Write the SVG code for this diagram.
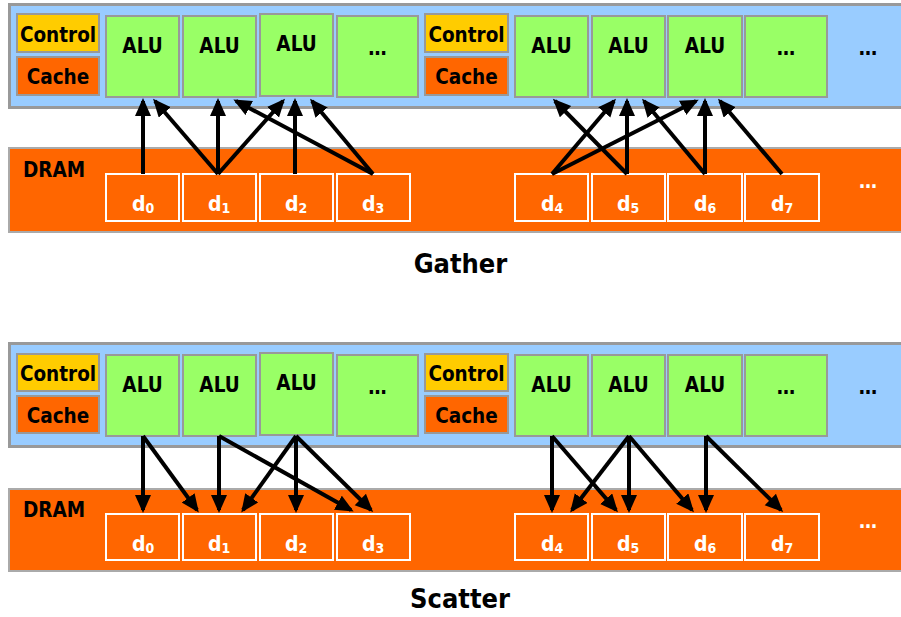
<svg xmlns="http://www.w3.org/2000/svg" width="901" height="617" viewBox="0 0 901 617">
<defs>
<marker id="ah" markerUnits="userSpaceOnUse" markerWidth="20" markerHeight="18" refX="15" refY="8" orient="auto">
<path d="M0,0 L18,8 L0,16 z" fill="#000"/>
</marker>
<style>
.band{fill:#99CCFF;stroke:#999;stroke-width:3}
.dram{fill:#FF6600;stroke:#aaa;stroke-width:2}
.ctl{fill:#FFCC00;stroke:#999;stroke-width:2}
.cache{fill:#FF6600;stroke:#999;stroke-width:2}
.alu{fill:#99FF66;stroke:#999;stroke-width:2}
.d{fill:#FF6600;stroke:#fff;stroke-width:2}
text{font-family:"DejaVu Sans Condensed","DejaVu Sans",Verdana,sans-serif;font-weight:bold}
.t{font-size:20.5px;fill:#000;text-anchor:middle}
.dt{font-size:21px;fill:#fff}
.sub{font-size:14px}
.cap{font-size:27px;fill:#000;text-anchor:middle}
.arr line{stroke:#000;stroke-width:4;marker-end:url(#ah)}
</style>
</defs>
<rect width="901" height="617" fill="#fff"/>

<!-- GATHER PANEL -->
<g id="gather-core">
<rect class="band" x="9.5" y="4.5" width="900" height="103"/>
</g>
<g id="g-control1"><rect class="ctl" x="17" y="14" width="82" height="38"/><text class="t" x="58" y="42">Control</text></g>
<g id="g-cache1"><rect class="cache" x="17" y="57" width="82" height="38"/><text class="t" x="58" y="84">Cache</text></g>
<g id="g-alu1"><rect class="alu" x="106" y="16" width="73" height="81"/><text class="t" x="142.5" y="53">ALU</text></g>
<g id="g-alu2"><rect class="alu" x="183" y="16" width="73" height="81"/><text class="t" x="219.5" y="53">ALU</text></g>
<g id="g-alu3"><rect class="alu" x="260" y="14" width="73" height="82"/><text class="t" x="296.5" y="51">ALU</text></g>
<g id="g-alu4"><rect class="alu" x="337" y="16" width="81" height="81"/><text class="t" x="377.5" y="55">…</text></g>
<g id="g-control2"><rect class="ctl" x="425" y="14" width="83" height="38"/><text class="t" x="466.5" y="42">Control</text></g>
<g id="g-cache2"><rect class="cache" x="425" y="57" width="83" height="38"/><text class="t" x="466.5" y="84">Cache</text></g>
<g id="g-alu5"><rect class="alu" x="515" y="16" width="73" height="81"/><text class="t" x="551.5" y="53">ALU</text></g>
<g id="g-alu6"><rect class="alu" x="592" y="16" width="73" height="81"/><text class="t" x="628.5" y="53">ALU</text></g>
<g id="g-alu7"><rect class="alu" x="668" y="16" width="74" height="81"/><text class="t" x="705" y="53">ALU</text></g>
<g id="g-alu8"><rect class="alu" x="745" y="16" width="82" height="81"/><text class="t" x="786" y="55">…</text></g>
<g id="g-more"><text class="t" x="868" y="55">…</text></g>

<g id="g-dram">
<rect class="dram" x="9" y="148" width="893" height="84"/>
<text x="23" y="177" style="font-size:20.5px;fill:#000">DRAM</text>
<text x="868" y="188" style="font-size:20px;fill:#fff;text-anchor:middle">…</text>
</g>
<g id="g-d0"><rect class="d" x="106" y="174" width="73" height="47"/><text class="dt" x="132" y="211">d<tspan class="sub" dy="2">0</tspan></text></g>
<g id="g-d1"><rect class="d" x="183" y="174" width="73" height="47"/><text class="dt" x="208" y="211">d<tspan class="sub" dy="2">1</tspan></text></g>
<g id="g-d2"><rect class="d" x="260" y="174" width="73" height="47"/><text class="dt" x="285" y="211">d<tspan class="sub" dy="2">2</tspan></text></g>
<g id="g-d3"><rect class="d" x="337" y="174" width="73" height="47"/><text class="dt" x="362" y="211">d<tspan class="sub" dy="2">3</tspan></text></g>
<g id="g-d4"><rect class="d" x="515" y="174" width="73" height="47"/><text class="dt" x="541" y="211">d<tspan class="sub" dy="2">4</tspan></text></g>
<g id="g-d5"><rect class="d" x="592" y="174" width="73" height="47"/><text class="dt" x="617" y="211">d<tspan class="sub" dy="2">5</tspan></text></g>
<g id="g-d6"><rect class="d" x="668" y="174" width="74" height="47"/><text class="dt" x="694" y="211">d<tspan class="sub" dy="2">6</tspan></text></g>
<g id="g-d7"><rect class="d" x="745" y="174" width="74" height="47"/><text class="dt" x="771" y="211">d<tspan class="sub" dy="2">7</tspan></text></g>

<g id="gather-connectors" class="arr">
<line x1="143" y1="174" x2="143" y2="101"/>
<line x1="218" y1="174" x2="155" y2="101"/>
<line x1="218" y1="174" x2="218" y2="101"/>
<line x1="218" y1="174" x2="283" y2="101"/>
<line x1="295" y1="174" x2="295" y2="101"/>
<line x1="373" y1="174" x2="236" y2="101"/>
<line x1="373" y1="174" x2="312" y2="101"/>
<line x1="552" y1="174" x2="614" y2="101"/>
<line x1="552" y1="174" x2="696" y2="101"/>
<line x1="627" y1="174" x2="627" y2="101"/>
<line x1="627" y1="174" x2="555" y2="101"/>
<line x1="705" y1="174" x2="705" y2="101"/>
<line x1="705" y1="174" x2="644" y2="101"/>
<line x1="782" y1="174" x2="720" y2="101"/>
</g>
<text class="cap" x="460.5" y="273">Gather</text>

<!-- SCATTER PANEL -->
<g id="scatter-core">
<rect class="band" x="9.5" y="343.5" width="900" height="103"/>
</g>
<g id="s-control1"><rect class="ctl" x="17" y="354" width="82" height="37"/><text class="t" x="58" y="381">Control</text></g>
<g id="s-cache1"><rect class="cache" x="17" y="396" width="82" height="37"/><text class="t" x="58" y="423">Cache</text></g>
<g id="s-alu1"><rect class="alu" x="106" y="355" width="73" height="81"/><text class="t" x="142.5" y="392">ALU</text></g>
<g id="s-alu2"><rect class="alu" x="183" y="355" width="73" height="81"/><text class="t" x="219.5" y="392">ALU</text></g>
<g id="s-alu3"><rect class="alu" x="260" y="353" width="73" height="82"/><text class="t" x="296.5" y="390">ALU</text></g>
<g id="s-alu4"><rect class="alu" x="337" y="355" width="81" height="81"/><text class="t" x="377.5" y="394">…</text></g>
<g id="s-control2"><rect class="ctl" x="425" y="354" width="83" height="37"/><text class="t" x="466.5" y="381">Control</text></g>
<g id="s-cache2"><rect class="cache" x="425" y="396" width="83" height="37"/><text class="t" x="466.5" y="423">Cache</text></g>
<g id="s-alu5"><rect class="alu" x="515" y="355" width="73" height="81"/><text class="t" x="551.5" y="392">ALU</text></g>
<g id="s-alu6"><rect class="alu" x="592" y="355" width="73" height="81"/><text class="t" x="628.5" y="392">ALU</text></g>
<g id="s-alu7"><rect class="alu" x="668" y="355" width="74" height="81"/><text class="t" x="705" y="392">ALU</text></g>
<g id="s-alu8"><rect class="alu" x="745" y="355" width="82" height="81"/><text class="t" x="786" y="394">…</text></g>
<g id="s-more"><text class="t" x="868" y="394">…</text></g>

<g id="s-dram">
<rect class="dram" x="9" y="489" width="893" height="82"/>
<text x="23" y="517" style="font-size:20.5px;fill:#000">DRAM</text>
<text x="868" y="528" style="font-size:20px;fill:#fff;text-anchor:middle">…</text>
</g>
<g id="s-d0"><rect class="d" x="106" y="514" width="73" height="46"/><text class="dt" x="132" y="551">d<tspan class="sub" dy="2">0</tspan></text></g>
<g id="s-d1"><rect class="d" x="183" y="514" width="73" height="46"/><text class="dt" x="208" y="551">d<tspan class="sub" dy="2">1</tspan></text></g>
<g id="s-d2"><rect class="d" x="260" y="514" width="73" height="46"/><text class="dt" x="285" y="551">d<tspan class="sub" dy="2">2</tspan></text></g>
<g id="s-d3"><rect class="d" x="337" y="514" width="73" height="46"/><text class="dt" x="362" y="551">d<tspan class="sub" dy="2">3</tspan></text></g>
<g id="s-d4"><rect class="d" x="515" y="514" width="73" height="46"/><text class="dt" x="541" y="551">d<tspan class="sub" dy="2">4</tspan></text></g>
<g id="s-d5"><rect class="d" x="592" y="514" width="73" height="46"/><text class="dt" x="617" y="551">d<tspan class="sub" dy="2">5</tspan></text></g>
<g id="s-d6"><rect class="d" x="668" y="514" width="74" height="46"/><text class="dt" x="694" y="551">d<tspan class="sub" dy="2">6</tspan></text></g>
<g id="s-d7"><rect class="d" x="745" y="514" width="74" height="46"/><text class="dt" x="771" y="551">d<tspan class="sub" dy="2">7</tspan></text></g>

<g id="scatter-connectors" class="arr">
<line x1="143" y1="436" x2="143" y2="510"/>
<line x1="143" y1="436" x2="197" y2="510"/>
<line x1="219" y1="436" x2="219" y2="510"/>
<line x1="219" y1="436" x2="351" y2="510"/>
<line x1="296" y1="436" x2="243" y2="510"/>
<line x1="296" y1="436" x2="296" y2="510"/>
<line x1="296" y1="436" x2="371" y2="510"/>
<line x1="552" y1="436" x2="552" y2="510"/>
<line x1="552" y1="436" x2="616" y2="510"/>
<line x1="629" y1="436" x2="572" y2="510"/>
<line x1="629" y1="436" x2="629" y2="510"/>
<line x1="629" y1="436" x2="692" y2="510"/>
<line x1="706" y1="436" x2="706" y2="510"/>
<line x1="706" y1="436" x2="781" y2="510"/>
</g>
<text class="cap" x="460" y="608">Scatter</text>
</svg>
